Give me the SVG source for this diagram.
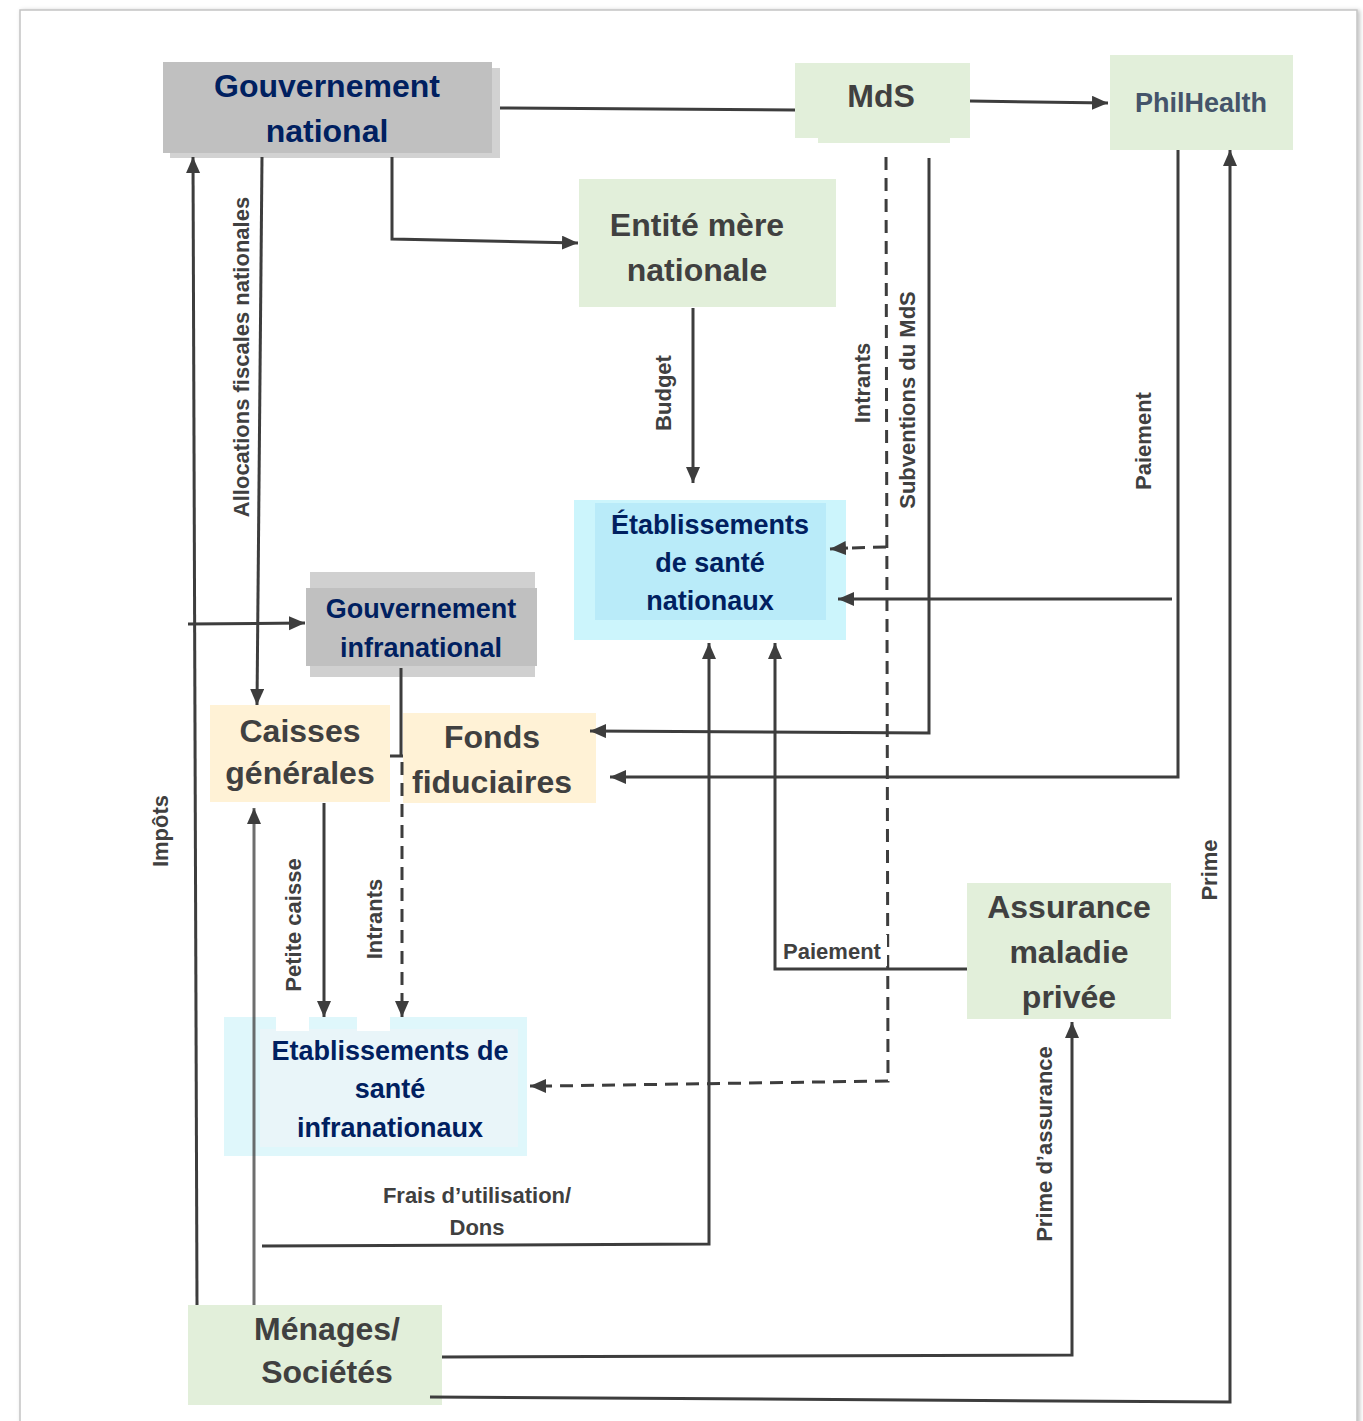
<svg xmlns="http://www.w3.org/2000/svg" width="1363" height="1421" viewBox="0 0 1363 1421">
<defs>
<style>
.t{font-family:"Liberation Sans",Arial,sans-serif;font-weight:bold;text-anchor:middle}
.big{font-size:32px;fill:#404040}
.navy{fill:#002060}
.lbl{font-family:"Liberation Sans",Arial,sans-serif;font-weight:bold;font-size:22px;fill:#404040;text-anchor:middle}
.ln{fill:none;stroke:#3d3d3d;stroke-width:3}
.arr{marker-end:url(#ah)}
.dash{stroke-dasharray:13 8}
.green{fill:#e2efda}
.cream{fill:#fff2d6}
</style>
<marker id="ah" markerUnits="userSpaceOnUse" markerWidth="18" markerHeight="16" refX="16" refY="7" orient="auto">
<path d="M0,0 L16,7 L0,14 z" fill="#3d3d3d"/>
</marker>
<filter id="sh" x="-5%" y="-5%" width="110%" height="110%">
<feDropShadow dx="2" dy="1" stdDeviation="2" flood-color="#000" flood-opacity="0.25"/>
</filter>
</defs>
<rect x="0" y="0" width="1363" height="1421" fill="#ffffff"/>
<rect x="20" y="10" width="1337" height="1430" fill="#ffffff" stroke="#c4c4c4" stroke-width="1.5" filter="url(#sh)"/>

<g id="gouv-national">
<rect x="170" y="68" width="330" height="90" fill="#d2d2d2"/>
<rect x="163" y="62" width="329" height="91" fill="#c0c0c0"/>
<text class="t navy" font-size="32" x="327" y="97">Gouvernement</text>
<text class="t navy" font-size="32" x="327" y="142">national</text>
</g>
<g id="mds">
<rect x="818" y="100" width="132" height="43" class="green"/>
<rect x="795" y="63" width="175" height="75" class="green"/>
<text class="t big" x="881" y="107">MdS</text>
</g>
<g id="philhealth">
<rect x="1110" y="55" width="183" height="95" class="green"/>
<text class="t" font-size="27" fill="#44546a" x="1201" y="112">PhilHealth</text>
</g>
<g id="entite-mere">
<rect x="579" y="179" width="257" height="128" class="green"/>
<text class="t big" x="697" y="236">Entité mère</text>
<text class="t big" x="697" y="281">nationale</text>
</g>
<g id="etab-nationaux">
<rect x="574" y="500" width="272" height="140" fill="#ccf5fc"/>
<rect x="595" y="503" width="231" height="117" fill="#b9ebf9"/>
<text class="t navy" font-size="27" x="710" y="534">Établissements</text>
<text class="t navy" font-size="27" x="710" y="572">de santé</text>
<text class="t navy" font-size="27" x="710" y="610">nationaux</text>
</g>
<g id="gouv-infranational">
<rect x="310" y="572" width="225" height="105" fill="#d0d0d0"/>
<rect x="306" y="588" width="231" height="78" fill="#c0c0c0"/>
<text class="t navy" font-size="27" x="421" y="618">Gouvernement</text>
<text class="t navy" font-size="27" x="421" y="657">infranational</text>
</g>
<g id="caisses-generales">
<rect x="210" y="705" width="180" height="97" class="cream"/>
<text class="t big" x="300" y="742">Caisses</text>
<text class="t big" x="300" y="784">générales</text>
</g>
<g id="fonds-fiduciaires">
<rect x="403" y="713" width="193" height="90" class="cream"/>
<text class="t big" x="492" y="748">Fonds</text>
<text class="t big" x="492" y="793">fiduciaires</text>
</g>
<g id="etab-infranationaux">
<rect x="224" y="1017" width="303" height="139" fill="#dff7fb"/>
<rect x="260" y="1029" width="258" height="118" fill="#e9f5f9"/>
<rect x="276" y="1016" width="33" height="15" fill="#ffffff"/>
<rect x="357" y="1016" width="33" height="15" fill="#ffffff"/>
<text class="t navy" font-size="27" x="390" y="1060">Etablissements de</text>
<text class="t navy" font-size="27" x="390" y="1098">santé</text>
<text class="t navy" font-size="27" x="390" y="1137">infranationaux</text>
</g>
<g id="assurance-privee">
<rect x="967" y="883" width="204" height="136" class="green"/>
<text class="t big" font-size="31" x="1069" y="918">Assurance</text>
<text class="t big" font-size="31" x="1069" y="963">maladie</text>
<text class="t big" font-size="31" x="1069" y="1008">privée</text>
</g>
<g id="menages">
<rect x="188" y="1305" width="254" height="100" class="green"/>
<text class="t big" x="327" y="1340">Ménages/</text>
<text class="t big" x="327" y="1383">Sociétés</text>
</g>

<g id="connectors">
<path class="ln" d="M500,108 L795,110"/>
<path class="ln arr" d="M970,101 L1108,103"/>
<path class="ln arr" d="M392,157 L392,239 L578,243"/>
<path class="ln arr" d="M693,308 L693,483"/>
<path class="ln dash" d="M886,157 L888,1081 L548,1086"/>
<path class="ln arr" d="M548,1086 L530,1086"/>
<path class="ln dash" d="M886,547 L848,548"/>
<path class="ln arr" d="M848,548 L830,549"/>
<path class="ln arr" d="M929,158 L929,733 L590,731"/>
<path class="ln arr" d="M1178,150 L1178,777 L610,777"/>
<path class="ln arr" d="M1172,599 L838,599"/>
<path class="ln arr" d="M430,1397 L1230,1402 L1230,150"/>
<path class="ln arr" d="M442,1357 L1072,1355 L1072,1022"/>
<path class="ln arr" d="M967,969 L775,969 L775,643"/>
<path class="ln arr" d="M262,1246 L709,1244 L709,643"/>
<path class="ln arr" d="M197,1305 L193,157"/>
<path class="ln arr" d="M262,157 L257,705"/>
<path class="ln arr" d="M188,624 L305,623"/>
<path class="ln arr" d="M254,1305 L254,808" stroke-opacity="0.75"/>
<path class="ln arr" d="M324,803 L324,1017"/>
<path class="ln" d="M401,668 L401,755 M390,756 L403,756"/>
<path class="ln dash" d="M402,762 L402,1000"/>
<path class="ln arr" d="M402,1000 L402,1017"/>
<text class="lbl" transform="translate(249,357) rotate(-90)">Allocations fiscales nationales</text>
<text class="lbl" transform="translate(168,831) rotate(-90)">Impôts</text>
<text class="lbl" transform="translate(671,393) rotate(-90)">Budget</text>
<text class="lbl" transform="translate(870,383) rotate(-90)">Intrants</text>
<text class="lbl" transform="translate(915,400) rotate(-90)">Subventions du MdS</text>
<text class="lbl" transform="translate(1151,441) rotate(-90)">Paiement</text>
<text class="lbl" transform="translate(1217,870) rotate(-90)">Prime</text>
<text class="lbl" transform="translate(301,925) rotate(-90)">Petite caisse</text>
<text class="lbl" transform="translate(382,919) rotate(-90)">Intrants</text>
<text class="lbl" transform="translate(1052,1144) rotate(-90)">Prime d’assurance</text>
<rect x="777" y="935" width="110" height="31" fill="#ffffff"/>
<text class="lbl" x="832" y="959">Paiement</text>
<text class="lbl" x="477" y="1203">Frais d’utilisation/</text>
<text class="lbl" x="477" y="1235">Dons</text>
</g>
</svg>
